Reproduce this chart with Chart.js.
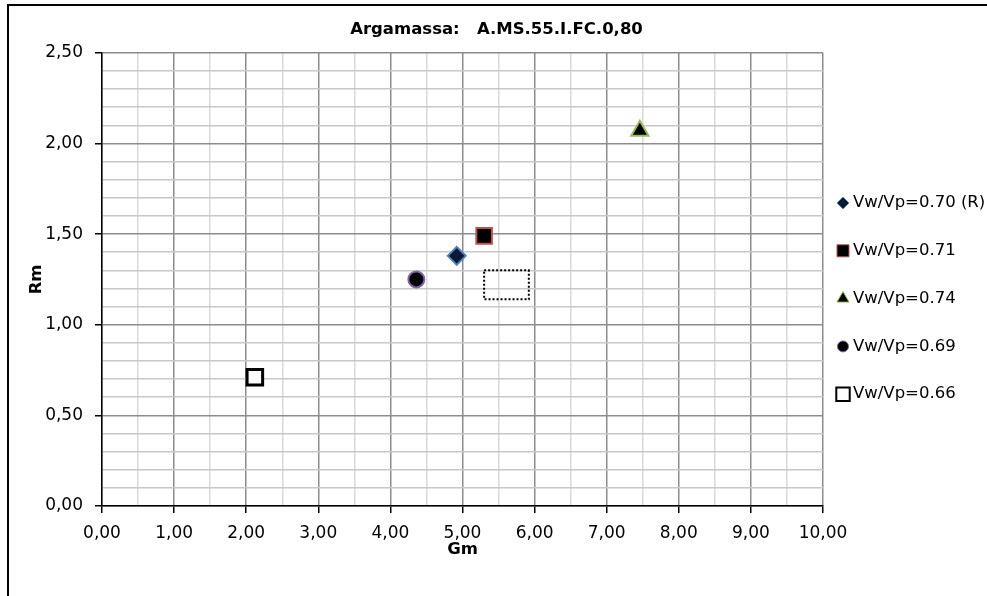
<!DOCTYPE html>
<html>
<head>
<meta charset="utf-8">
<script src="https://cdn.jsdelivr.net/npm/chart.js@4/dist/chart.umd.min.js"></script>
<style>
  body { margin: 0; background: #fff; }
  #wrap { width: 987px; height: 596px; }
</style>
</head>
<body>
<div id="wrap"><canvas id="rmChart" width="987" height="596"></canvas></div>
<script>
// Gm / Rm por relação Vw/Vp
var seriesNames = ['Vw/Vp=0.70 (R)', 'Vw/Vp=0.71', 'Vw/Vp=0.74', 'Vw/Vp=0.69', 'Vw/Vp=0.66'];
var gmValues = [4.92, 5.30, 7.46, 4.36, 2.12];
var rmValues = [1.38, 1.49, 2.07, 1.25, 0.71];

// caixa pontilhada (cantos em Gm / Rm)
var boxGm = [5.30, 5.92, 5.92, 5.30, 5.30];
var boxRm = [1.30, 1.30, 1.14, 1.14, 1.30];

var xTicks = [0, 10, 0.5];   // min, max, passo
var yTicks = [0, 2.5, 0.1];

// estilo dos marcadores: no gráfico (r) e na legenda (lr)
var markers = [
    { style: 'rectRot', r: 9,  lr: 6,   fill: '#0b1a33', line: '#4f81bd', w: 2, lw: 1 },
    { style: 'rect',    r: 11, lr: 8.5, fill: '#000000', line: '#c0504d', w: 2, lw: 1 },
    { style: 'triangle',r: 10, lr: 7,   fill: '#000000', line: '#9bbb59', w: 2, lw: 1 },
    { style: 'circle',  r: 8,  lr: 5.5, fill: '#000000', line: '#8064a2', w: 2, lw: 1 },
    { style: 'rect',    r: 11, lr: 9.5, fill: '#ffffff', line: '#000000', w: 3, lw: 2 }
];

var baseFont = 'DejaVu Sans';

function fmt(v) {
    return v.toFixed(2).replace('.', ',');
}

function isMajor(v, every) {
    return Math.abs(v / every - Math.round(v / every)) < 1e-6;
}

var datasets = seriesNames.map(function (name, i) {
    var m = markers[i];
    return {
        label: name,
        data: [{ x: gmValues[i], y: rmValues[i] }],
        pointStyle: m.style,
        pointRadius: m.r,
        pointHoverRadius: m.r,
        backgroundColor: m.fill,
        borderColor: m.line,
        borderWidth: m.w
    };
});

datasets.push({
    label: 'box',
    data: boxGm.map(function (g, i) { return { x: g, y: boxRm[i] }; }),
    showLine: true,
    pointRadius: 0,
    borderColor: '#000',
    borderWidth: 2,
    borderDash: [2, 2],
    fill: false
});

var framePlugin = {
    id: 'frame',
    beforeDraw: function (chart) {
        var ctx = chart.ctx;
        ctx.save();
        ctx.fillStyle = '#fff';
        ctx.fillRect(0, 0, chart.width, chart.height);
        ctx.strokeStyle = '#000';
        ctx.lineWidth = 2;
        ctx.strokeRect(8, 5, chart.width + 20, chart.height + 20);
        ctx.restore();
    }
};

// legenda à direita, desenhada a partir dos datasets
var sideLegend = {
    id: 'sideLegend',
    afterDraw: function (chart) {
        var ctx = chart.ctx;
        var x0 = chart.chartArea.right + 20;
        var y0 = 203, step = 47.8;
        ctx.save();
        ctx.font = '16.5px "' + baseFont + '"';
        ctx.textBaseline = 'middle';
        ctx.textAlign = 'left';
        seriesNames.forEach(function (name, i) {
            var m = markers[i];
            var y = y0 + i * step;
            ctx.fillStyle = m.fill;
            ctx.strokeStyle = m.line;
            ctx.lineWidth = m.lw;
            Chart.helpers.drawPoint(ctx, { pointStyle: m.style, radius: m.lr, rotation: 0, borderWidth: m.lw }, x0, y);
            ctx.fillStyle = '#000';
            ctx.fillText(name, x0 + 10, y);
        });
        ctx.restore();
    }
};

var ctx = document.getElementById('rmChart').getContext('2d');
var rmChart = new Chart(ctx, {
    type: 'scatter',
    data: { datasets: datasets },
    plugins: [framePlugin, sideLegend],
    options: {
        responsive: false,
        animation: false,
        layout: { padding: { left: 6, right: 0, top: 0, bottom: 0 } },
        plugins: {
            title: {
                display: true,
                text: 'Argamassa:   A.MS.55.I.FC.0,80',
                color: '#000',
                font: { family: baseFont, size: 16.5, weight: 'bold' },
                padding: { top: 20, bottom: 13 }
            },
            legend: { display: false },
            tooltip: { enabled: false }
        },
        scales: {
            x: {
                type: 'linear',
                min: xTicks[0],
                max: xTicks[1],
                afterFit: function (s) { s.height = 90; },
                ticks: {
                    stepSize: xTicks[2],
                    autoSkip: false,
                    maxRotation: 0,
                    color: '#000',
                    padding: 10,
                    font: { family: baseFont, size: 17 },
                    callback: function (v) { return isMajor(v, 1) ? fmt(v) : ''; }
                },
                grid: {
                    color: function (c) { return isMajor(c.tick.value, 1) ? '#8c8c8c' : '#d9d9d9'; },
                    tickColor: function (c) { return isMajor(c.tick.value, 1) ? '#000' : 'rgba(0,0,0,0)'; },
                    tickLength: 7,
                    lineWidth: 1.5
                },
                border: { color: '#000', width: 1.5 },
                title: {
                    display: true,
                    text: 'Gm',
                    color: '#000',
                    font: { family: baseFont, size: 16.5, weight: 'bold' },
                    padding: { top: 0, bottom: 36 }
                }
            },
            y: {
                type: 'linear',
                min: yTicks[0],
                max: yTicks[1],
                afterFit: function (s) { s.width = 96; },
                ticks: {
                    stepSize: yTicks[2],
                    autoSkip: false,
                    color: '#000',
                    padding: 12,
                    font: { family: baseFont, size: 17 },
                    callback: function (v) { return isMajor(v, 0.5) ? fmt(v) : ''; }
                },
                grid: {
                    color: function (c) { return isMajor(c.tick.value, 0.5) ? '#8c8c8c' : '#c8c8c8'; },
                    tickColor: function (c) { return isMajor(c.tick.value, 0.5) ? '#000' : 'rgba(0,0,0,0)'; },
                    tickLength: 7,
                    lineWidth: 1.5
                },
                border: { color: '#000', width: 1.5 },
                title: {
                    display: true,
                    text: 'Rm',
                    color: '#000',
                    font: { family: baseFont, size: 16.5, weight: 'bold' },
                    padding: { top: 21, bottom: 0 }
                }
            },
            // faixa vazia à direita, reservada para a legenda
            legendSpace: {
                type: 'linear',
                position: 'right',
                afterFit: function (s) { s.width = 164; },
                ticks: { display: false },
                grid: { display: false, drawTicks: false },
                border: { display: false }
            }
        }
    }
});
</script>
</body>
</html>
